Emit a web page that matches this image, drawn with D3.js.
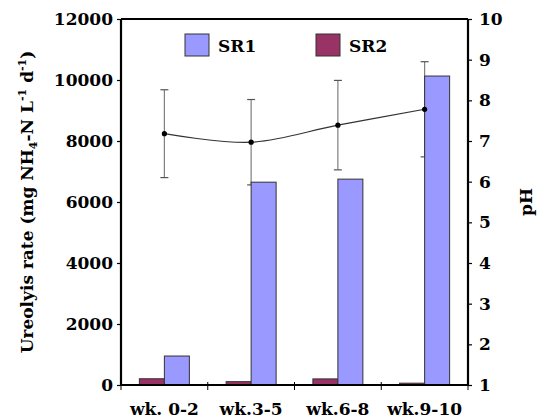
<!DOCTYPE html>
<html>
<head>
<meta charset="utf-8">
<script src="https://cdn.jsdelivr.net/npm/d3@7"></script>
<style>
  body { margin: 0; background: #fff; }
  svg text { font-family: "DejaVu Serif", serif; font-weight: bold; fill: #000; }
</style>
</head>
<body>
<svg id="chart" width="547" height="419"></svg>
<script>
// data
var weeks = ["wk. 0-2", "wk.3-5", "wk.6-8", "wk.9-10"];
var sr1 = [950, 6650, 6750, 10130];
var sr2 = [205, 110, 200, 60];
var ph = [7.18, 6.97, 7.39, 7.78];
var phErr = [1.08, 1.05, 1.1, 1.17];
var leftTicks = [0, 2000, 4000, 6000, 8000, 10000, 12000];
var rightTicks = [1, 2, 3, 4, 5, 6, 7, 8, 9, 10];

var margin = {top: 19, right: 79, bottom: 34, left: 121},
    width = 547 - margin.left - margin.right,
    height = 419 - margin.top - margin.bottom;

var svg = d3.select("#chart")
  .append("g")
    .attr("transform", "translate(" + margin.left + "," + margin.top + ")");

var x = d3.scaleBand()
    .domain(weeks)
    .range([0, width])
    .padding(0);

var xInner = d3.scaleBand()
    .domain(["SR2", "SR1"])
    .range([0, x.bandwidth()])
    .paddingInner(0)
    .paddingOuter(0.735);

var y = d3.scaleLinear()
    .domain([0, 12000])
    .range([height, 0]);

var y2 = d3.scaleLinear()
    .domain([1, 10])
    .range([height, 0]);

var colors = {SR1: "#9999ff", SR2: "#993366"};

// pH line + error bars (drawn under the bars)
var pts = weeks.map(function (w, i) {
  return {x: x(w) + x.bandwidth() / 2, v: ph[i], e: phErr[i]};
});

var err = svg.selectAll(".err")
    .data(pts)
    .enter().append("g")
    .attr("class", "err");

err.append("line")
    .attr("x1", function (d) { return d.x; })
    .attr("x2", function (d) { return d.x; })
    .attr("y1", function (d) { return y2(d.v + d.e); })
    .attr("y2", function (d) { return y2(d.v - d.e); })
    .attr("stroke", "#7f7f7f")
    .attr("stroke-width", 1.2);

[1, -1].forEach(function (s) {
  err.append("line")
      .attr("x1", function (d) { return d.x - 4; })
      .attr("x2", function (d) { return d.x + 4; })
      .attr("y1", function (d) { return y2(d.v + s * d.e); })
      .attr("y2", function (d) { return y2(d.v + s * d.e); })
      .attr("stroke", "#555")
      .attr("stroke-width", 1.2);
});

svg.append("path")
    .datum(pts)
    .attr("fill", "none")
    .attr("stroke", "#333")
    .attr("stroke-width", 1.2)
    .attr("d", d3.line()
        .x(function (d) { return d.x; })
        .y(function (d) { return y2(d.v); })
        .curve(d3.curveCatmullRom));

// bars
var bars = [];
weeks.forEach(function (w, i) {
  bars.push({week: w, s: "SR2", v: sr2[i]});
  bars.push({week: w, s: "SR1", v: sr1[i]});
});

svg.selectAll(".bar")
    .data(bars)
    .enter().append("rect")
    .attr("x", function (d) { return x(d.week) + xInner(d.s); })
    .attr("width", xInner.bandwidth())
    .attr("y", function (d) { return y(d.v); })
    .attr("height", function (d) { return height - y(d.v); })
    .attr("fill", function (d) { return colors[d.s]; })
    .attr("stroke", "#333")
    .attr("stroke-width", 1);

svg.selectAll(".dot")
    .data(pts)
    .enter().append("circle")
    .attr("cx", function (d) { return d.x; })
    .attr("cy", function (d) { return y2(d.v); })
    .attr("r", 2.6)
    .attr("fill", "#000");

// frame top
svg.append("line")
    .attr("x1", 0).attr("x2", width)
    .attr("y1", 0).attr("y2", 0)
    .attr("stroke", "#000").attr("stroke-width", 2);

// axes
var axL = svg.append("g")
    .call(d3.axisLeft(y).tickValues(leftTicks).tickFormat(d3.format("d")).tickSize(4).tickPadding(4));
var axR = svg.append("g")
    .attr("transform", "translate(" + width + ",0)")
    .call(d3.axisRight(y2).tickValues(rightTicks).tickFormat(d3.format("d")).tickSize(4).tickPadding(7));
var axB = svg.append("g")
    .attr("transform", "translate(0," + height + ")")
    .call(d3.axisBottom(x).tickSize(0).tickPadding(18));

// bottom axis ticks between categories
axB.selectAll(".sep")
    .data(d3.range(weeks.length + 1))
    .enter().append("line")
    .attr("x1", function (d) { return d * x.step(); })
    .attr("x2", function (d) { return d * x.step(); })
    .attr("y1", -3).attr("y2", 5)
    .attr("stroke", "#000").attr("stroke-width", 1);

[axL, axR, axB].forEach(function (a) {
  a.attr("font-family", null);
  a.select(".domain").attr("stroke-width", 2.2);
  a.selectAll("text").attr("font-size", 17);
  a.selectAll(".tick line").attr("stroke-width", 1.2);
});
axL.select(".domain").attr("d", "M0," + height + "V0");
axR.select(".domain").attr("d", "M0," + height + "V0");
axB.select(".domain").attr("d", "M0,0H" + width);

// legend
var legend = [{s: "SR1", x: 64}, {s: "SR2", x: 195}];
var lg = svg.selectAll(".lg")
    .data(legend)
    .enter().append("g")
    .attr("transform", function (d) { return "translate(" + d.x + ",15)"; });
lg.append("rect")
    .attr("width", 24).attr("height", 22)
    .attr("fill", function (d) { return colors[d.s]; })
    .attr("stroke", "#333").attr("stroke-width", 1);
lg.append("text")
    .attr("x", 33).attr("y", 18)
    .attr("font-size", 17)
    .text(function (d) { return d.s; });

// axis titles
var t = svg.append("text")
    .attr("transform", "translate(-88," + (height / 2) + ") rotate(-90)")
    .attr("text-anchor", "middle")
    .attr("font-size", 17);
t.append("tspan").text("Ureolyis rate (mg NH");
t.append("tspan").attr("font-size", 11).attr("dy", 4).text("4");
t.append("tspan").attr("dy", -4).text("-N L");
t.append("tspan").attr("font-size", 11).attr("dy", -7).text("-1");
t.append("tspan").attr("dy", 7).text(" d");
t.append("tspan").attr("font-size", 11).attr("dy", -7).text("-1");
t.append("tspan").attr("dy", 7).text(")");

svg.append("text")
    .attr("transform", "translate(" + (width + 64) + "," + (height / 2) + ") rotate(-90)")
    .attr("text-anchor", "middle")
    .attr("font-size", 17)
    .text("pH");
</script>
</body>
</html>
